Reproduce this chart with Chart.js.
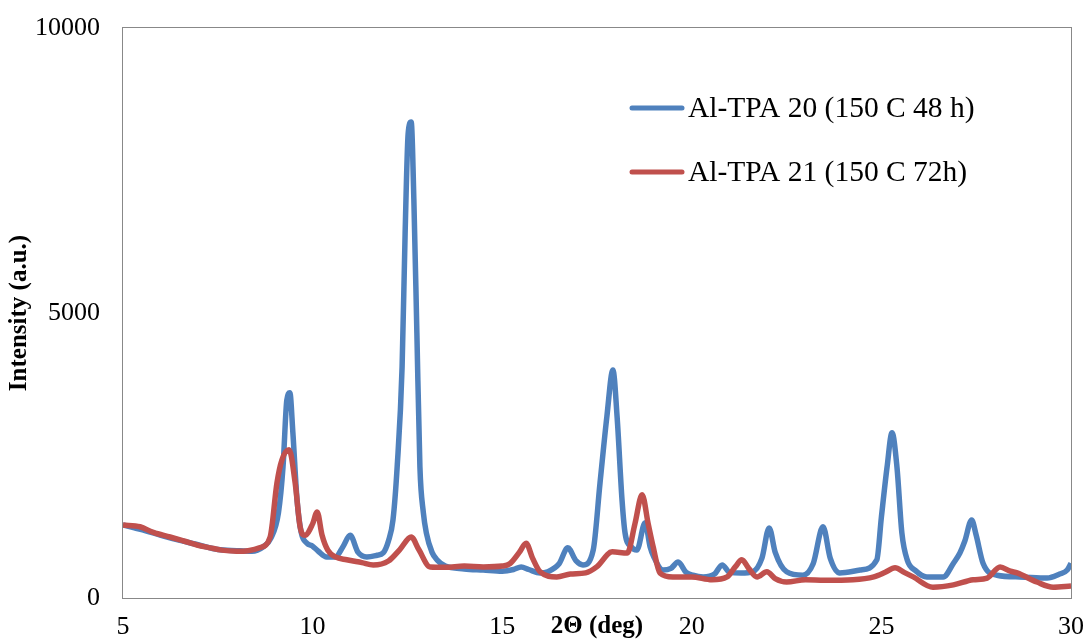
<!DOCTYPE html>
<html>
<head>
<meta charset="utf-8">
<script src="https://cdn.jsdelivr.net/npm/chart.js@4.4.1/dist/chart.umd.min.js"></script>
<style>
  html, body { margin: 0; padding: 0; background: #fff; }
  canvas { display: block; }
</style>
</head>
<body>
<canvas id="xrd" width="1087" height="642"></canvas>
<script>
// XRD patterns, 2-theta in degrees vs intensity (a.u.)
const angles20 = [5.0, 5.3, 5.6, 6.0, 6.5, 7.0, 7.5, 8.0, 8.4, 8.7, 8.9, 9.1, 9.22, 9.32, 9.4, 9.48, 9.59, 9.7, 9.85, 10.0,
  10.15, 10.37, 10.6, 10.8, 10.99, 11.2, 11.43, 11.7, 11.86, 12.0, 12.12, 12.23, 12.36, 12.44, 12.52, 12.6, 12.67, 12.75, 12.83, 12.92,
  13.0, 13.15, 13.28, 13.5, 14.0, 14.5, 15.0, 15.3, 15.5, 15.7, 16.0, 16.2, 16.5, 16.73, 16.95, 17.13, 17.4, 17.58, 17.76, 17.92,
  18.03, 18.16, 18.24, 18.4, 18.55, 18.77, 18.9, 19.0, 19.24, 19.45, 19.64, 19.85, 20.03, 20.3, 20.6, 20.8, 21.0, 21.3, 21.6, 21.85,
  22.04, 22.2, 22.5, 22.93, 23.2, 23.46, 23.65, 23.9, 24.44, 24.88, 25.0, 25.15, 25.28, 25.41, 25.54, 25.68, 25.9, 26.2, 26.63, 26.9,
  27.07, 27.2, 27.38, 27.5, 27.68, 28.05, 28.65, 29.37, 29.7, 29.9, 30.0];
const intensity20 = [1280, 1230, 1180, 1100, 1010, 930, 850, 830, 820, 900, 1050, 1500, 2300, 3470, 3600, 2900, 1720, 1150, 960, 910,
  820, 720, 720, 900, 1100, 800, 720, 750, 790, 1000, 1370, 2300, 4050, 6400, 8150, 8350, 7000, 4650, 2300, 1500,
  1140, 800, 670, 560, 510, 490, 470, 500, 545, 500, 440, 460, 600, 880, 650, 580, 840, 2020, 3180, 4000,
  3180, 1720, 1140, 900, 840, 1320, 900, 720, 490, 520, 630, 450, 400, 370, 420, 580, 450, 440, 460, 700,
  1230, 800, 460, 400, 600, 1250, 700, 440, 490, 670, 1420, 2300, 2900, 2300, 1140, 670, 480, 370, 370, 610,
  790, 1000, 1370, 1100, 610, 400, 370, 350, 420, 490, 610];

const angles21 = [5.0, 5.45, 5.8, 6.24, 6.6, 6.95, 7.3, 7.6, 8.0, 8.3, 8.6, 8.88, 9.06, 9.19, 9.38, 9.54, 9.67, 9.8, 10.0, 10.12,
  10.25, 10.4, 10.6, 10.9, 11.3, 11.6, 12.0, 12.3, 12.6, 12.8, 13.1, 13.5, 14.0, 14.5, 15.0, 15.2, 15.45, 15.63, 15.8, 16.0,
  16.44, 16.8, 17.2, 17.5, 17.9, 18.3, 18.5, 18.69, 18.85, 18.98, 19.16, 19.5, 20.0, 20.53, 20.93, 21.15, 21.32, 21.5, 21.72, 21.98,
  22.2, 22.5, 23.0, 23.5, 24.25, 24.8, 25.1, 25.36, 25.6, 25.84, 26.36, 26.9, 27.42, 27.79, 28.13, 28.4, 28.58, 29.1, 29.53, 30.0];
const intensity21 = [1280, 1250, 1150, 1070, 1000, 930, 880, 840, 820, 830, 880, 1070, 2020, 2420, 2600, 2020, 1250, 1100, 1300, 1510,
  1100, 840, 720, 670, 620, 580, 650, 850, 1070, 850, 545, 540, 560, 545, 560, 600, 800, 960, 700, 460,
  370, 420, 440, 550, 810, 790, 1300, 1810, 1300, 900, 440, 370, 370, 320, 370, 550, 670, 520, 370, 460,
  340, 280, 320, 310, 320, 370, 450, 530, 450, 370, 190, 230, 320, 350, 545, 470, 440, 280, 190, 210];

const seriesNames = ["Al-TPA 20 (150 C 48 h)", "Al-TPA 21 (150 C 72h)"];
const xTicks = [5, 10, 15, 20, 25, 30];
const yTicks = [0, 5000, 10000];

const BLUE = "#4F81BD";
const RED = "#C0504D";
const SERIF = "'Liberation Serif', 'Times New Roman', serif";

function toPoints(xs, ys) {
    return xs.map((x, i) => ({ x: x, y: ys[i] }));
}

// frame around the plot area
const frame = {
    id: "frame",
    beforeDatasetsDraw(chart) {
        const a = chart.chartArea;
        const ctx = chart.ctx;
        ctx.save();
        ctx.strokeStyle = "#888888";
        ctx.lineWidth = 1;
        ctx.strokeRect(Math.round(a.left) - 0.5, Math.round(a.top) - 0.5,
            Math.round(a.right - a.left) + 1, Math.round(a.bottom - a.top) + 1);
        ctx.restore();
    }
};

// legend inside the plot, upper right
const sideLegend = {
    id: "sideLegend",
    afterDraw(chart) {
        const ctx = chart.ctx;
        ctx.save();
        ctx.font = "29.5px " + SERIF;
        ctx.textBaseline = "middle";
        ctx.fillStyle = "#000";
        chart.data.datasets.forEach((ds, i) => {
            const y = 108 + i * 64;
            ctx.strokeStyle = ds.borderColor;
            ctx.lineWidth = 5;
            ctx.lineCap = "round";
            ctx.beginPath();
            ctx.moveTo(632, y);
            ctx.lineTo(682, y);
            ctx.stroke();
            ctx.fillText(ds.label, 688, y + 1);
        });
        ctx.restore();
    }
};

const ctx = document.getElementById("xrd").getContext("2d");
new Chart(ctx, {
    type: "line",
    data: {
        datasets: [
            {
                label: seriesNames[0],
                data: toPoints(angles20, intensity20),
                borderColor: BLUE,
                borderWidth: 5.5,
                pointRadius: 0,
                cubicInterpolationMode: "monotone",
                order: 1
            },
            {
                label: seriesNames[1],
                data: toPoints(angles21, intensity21),
                borderColor: RED,
                borderWidth: 5.5,
                pointRadius: 0,
                cubicInterpolationMode: "monotone",
                order: 0
            }
        ]
    },
    options: {
        responsive: false,
        animation: false,
        layout: { padding: { top: 28, right: 16, left: 0, bottom: 0 } },
        plugins: {
            legend: { display: false },
            tooltip: { enabled: false }
        },
        scales: {
            x: {
                type: "linear",
                min: 5,
                max: 30,
                afterFit: s => { s.height = 44; s.paddingLeft = 0; s.paddingRight = 0; },
                afterBuildTicks: s => { s.ticks = xTicks.map(v => ({ value: v })); },
                grid: { display: false, drawTicks: false },
                border: { display: false },
                ticks: {
                    padding: 14, color: "#000", font: { family: SERIF, size: 26 },
                    callback: v => String(v)
                },
                title: {
                    display: true,
                    text: "2\u0398 (deg)",
                    color: "#000",
                    padding: { top: 0, bottom: 0 },
                    font: { family: SERIF, size: 25, weight: "bold" }
                }
            },
            y: {
                min: 0,
                max: 10000,
                afterFit: s => { s.width = 123; s.paddingTop = 0; s.paddingBottom = 0; },
                afterBuildTicks: s => { s.ticks = yTicks.map(v => ({ value: v })); },
                grid: { display: false, drawTicks: false },
                border: { display: false },
                ticks: {
                    padding: 23, color: "#000", font: { family: SERIF, size: 26 },
                    callback: v => String(v)
                },
                title: {
                    display: true,
                    text: "Intensity (a.u.)",
                    color: "#000",
                    padding: { top: 5, bottom: 0 },
                    font: { family: SERIF, size: 25, weight: "bold" }
                }
            }
        }
    },
    plugins: [frame, sideLegend]
});
</script>
</body>
</html>
